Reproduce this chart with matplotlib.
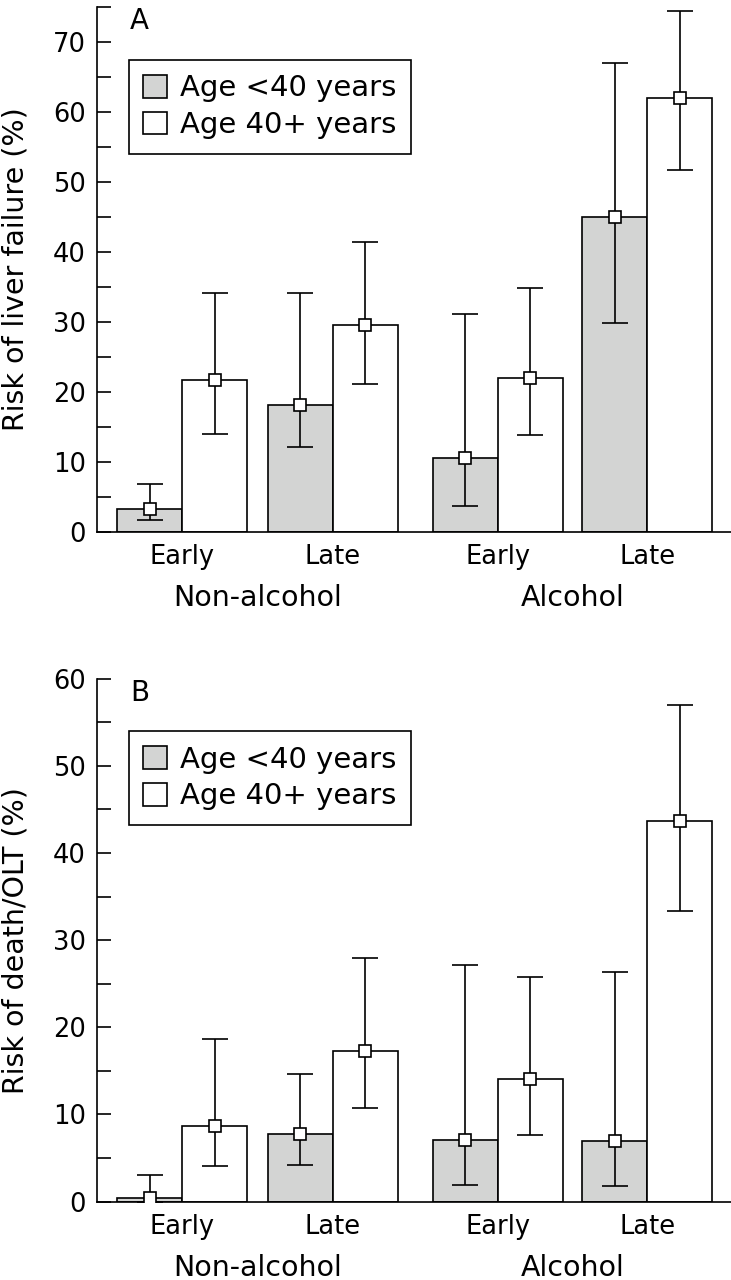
import matplotlib
matplotlib.use('Agg')
import matplotlib.pyplot as plt
from matplotlib.patches import Patch
from matplotlib.ticker import MultipleLocator

# categories
stages = ['Early', 'Late', 'Early', 'Late']
groups = ['Non-alcohol', 'Alcohol']
series = ['Age <40 years', 'Age 40+ years']

# panel A: risk of liver failure (%)
a_young = [3.3, 18.1, 10.6, 45.0]
a_young_lo = [1.7, 12.1, 3.7, 29.9]
a_young_hi = [6.9, 34.1, 31.2, 67.1]
a_old = [21.7, 29.6, 22.0, 62.0]
a_old_lo = [14.0, 21.2, 13.9, 51.8]
a_old_hi = [34.1, 41.5, 34.8, 74.5]

# panel B: risk of death/OLT (%)
b_young = [0.4, 7.8, 7.1, 6.9]
b_young_lo = [0.0, 4.2, 1.9, 1.8]
b_young_hi = [3.0, 14.6, 27.2, 26.3]
b_old = [8.7, 17.3, 14.1, 43.7]
b_old_lo = [4.1, 10.7, 7.6, 33.4]
b_old_hi = [18.7, 27.9, 25.8, 57.0]

FONT = 'DejaVu Sans'
plt.rcParams['font.family'] = FONT
GREY = '#d3d4d3'
pair_x = [0.0, 2.31, 4.85, 7.15]
W = 1.0


def draw_panel(ax, young, ylo, yhi, old, olo, ohi, ymax, ylabel, letter):
    xs_y = [p - W / 2 for p in pair_x]
    xs_o = [p + W / 2 for p in pair_x]
    ax.bar(xs_y, young, width=W, color=GREY, edgecolor='black', linewidth=1.2, zorder=2)
    ax.bar(xs_o, old, width=W, color='white', edgecolor='black', linewidth=1.2, zorder=2)
    for xs, v, lo, hi in [(xs_y, young, ylo, yhi), (xs_o, old, olo, ohi)]:
        err = [[a - b for a, b in zip(v, lo)], [b - a for a, b in zip(v, hi)]]
        ax.errorbar(xs, v, yerr=err, fmt='s', color='black', mfc='white', mec='black',
                    ms=8.5, mew=1.2, elinewidth=1.2, capsize=9.5, capthick=1.2, zorder=3)

    ax.set_xlim(-1.311, 8.435)
    ax.set_ylim(0, ymax)
    ax.spines['top'].set_visible(False)
    ax.spines['right'].set_visible(False)
    ax.spines['left'].set_linewidth(1.2)
    ax.spines['bottom'].set_linewidth(1.2)
    ax.yaxis.set_major_locator(MultipleLocator(10))
    ax.yaxis.set_minor_locator(MultipleLocator(5))
    ax.tick_params(axis='y', which='both', direction='in', length=10, width=1.2,
                   labelsize=18.5, pad=8)
    ax.set_xticks(pair_x)
    ax.set_xticklabels(stages)
    ax.tick_params(axis='x', length=0, labelsize=18.5, pad=9)
    ax.set_ylabel(ylabel, fontsize=20.5, labelpad=17)

    gx = [(pair_x[0] + pair_x[1]) / 2, (pair_x[2] + pair_x[3]) / 2]
    for x, g in zip(gx, groups):
        ax.text(x, -0.127, g, transform=ax.get_xaxis_transform(), ha='center',
                va='center', fontsize=20.5)

    ax.text(0.052, 1.0, letter, transform=ax.transAxes, ha='left', va='top', fontsize=20)

    handles = [Patch(facecolor=GREY, edgecolor='black', linewidth=1.2),
               Patch(facecolor='white', edgecolor='black', linewidth=1.2)]
    leg = ax.legend(handles, series, loc='upper left', bbox_to_anchor=(0.05, 0.90),
                    borderaxespad=0, fontsize=21, fancybox=False, framealpha=1,
                    handlelength=0.82, handleheight=0.82, handletextpad=0.45,
                    labelspacing=0.3, borderpad=0.5)
    leg.get_frame().set_edgecolor('black')
    leg.get_frame().set_linewidth(1.2)


fig = plt.figure(figsize=(7.31, 12.8), dpi=100)
ax1 = fig.add_axes([0.1327, 0.5845, 0.8673, 0.4098])
ax2 = fig.add_axes([0.1327, 0.0613, 0.8673, 0.4084])

draw_panel(ax1, a_young, a_young_lo, a_young_hi, a_old, a_old_lo, a_old_hi,
           75, 'Risk of liver failure (%)', 'A')
draw_panel(ax2, b_young, b_young_lo, b_young_hi, b_old, b_old_lo, b_old_hi,
           60, 'Risk of death/OLT (%)', 'B')

fig.savefig('out.png', dpi=100)
